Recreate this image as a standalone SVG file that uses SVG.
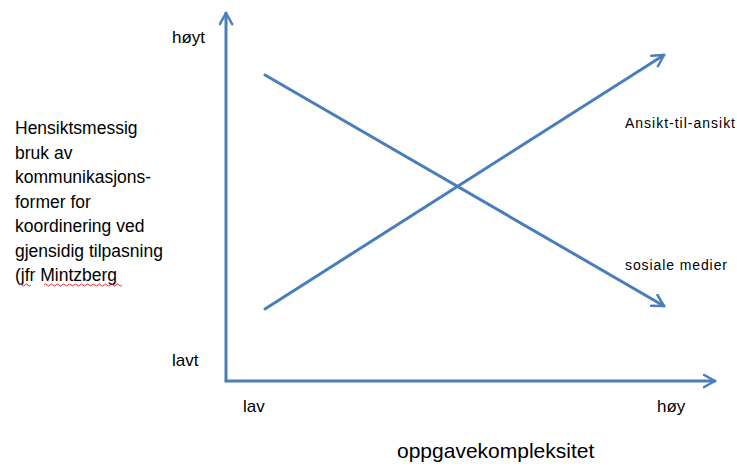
<svg xmlns="http://www.w3.org/2000/svg" width="737" height="466" viewBox="0 0 737 466">
<style>
.ax{stroke:#4a7ebb;stroke-width:3;fill:none;stroke-linecap:round}
.t{font-family:"Liberation Sans",Arial,sans-serif;fill:#000}
</style>
<defs>
<marker id="ah" viewBox="0 0 12 12" refX="10" refY="6" markerWidth="5" markerHeight="5" orient="auto" markerUnits="strokeWidth">
<path d="M1,1 L10,6 L1,11" fill="none" stroke="#4a7ebb" stroke-width="2" stroke-linecap="round" stroke-linejoin="round"/>
</marker>
</defs>
<g id="connectors">
<line class="ax" x1="226" y1="381" x2="226" y2="13" marker-end="url(#ah)"/>
<line class="ax" x1="226" y1="381" x2="715" y2="381" marker-end="url(#ah)"/>
<line class="ax" x1="265" y1="309" x2="664" y2="55" marker-end="url(#ah)"/>
<line class="ax" x1="265" y1="75" x2="664" y2="306" marker-end="url(#ah)"/>
</g>
<g id="ylabel">
<text class="t" font-size="17.5" x="15" y="134">Hensiktsmessig</text>
<text class="t" font-size="17.5" x="15" y="158.5">bruk av</text>
<text class="t" font-size="17.5" x="15" y="183">kommunikasjons-</text>
<text class="t" font-size="17.5" x="15" y="207.5">former for</text>
<text class="t" font-size="17.5" x="15" y="232">koordinering ved</text>
<text class="t" font-size="17.5" x="15" y="256.5">gjensidig tilpasning</text>
<text class="t" font-size="17.5" x="15" y="281">(jfr Mintzberg</text>
<path d="M19,285 q1.5,-2 3,0 t3,0 t3,0 t3,0 M44,285 q1.5,-2 3,0 t3,0 t3,0 t3,0 t3,0 t3,0 t3,0 t3,0 t3,0 t3,0 t3,0 t3,0 t3,0 t3,0 t3,0 t3,0 t3,0 t3,0 t3,0 t3,0 t3,0 t3,0 t3,0 t3,0 t3,0 t3,0" fill="none" stroke="#e03030" stroke-width="1"/>
</g>
<g id="yhigh"><text class="t" font-size="17" x="172" y="43">høyt</text></g>
<g id="ylow"><text class="t" font-size="17" x="172" y="366">lavt</text></g>
<g id="xlow"><text class="t" font-size="17" x="243" y="412">lav</text></g>
<g id="xhigh"><text class="t" font-size="17" x="657" y="412">høy</text></g>
<g id="xlabel"><text class="t" font-size="21" x="397" y="458">oppgavekompleksitet</text></g>
<g id="line1"><text class="t" font-size="14" x="625" y="128" textLength="110">Ansikt-til-ansikt</text></g>
<g id="line2"><text class="t" font-size="14" x="625" y="270" textLength="102">sosiale medier</text></g>
</svg>
